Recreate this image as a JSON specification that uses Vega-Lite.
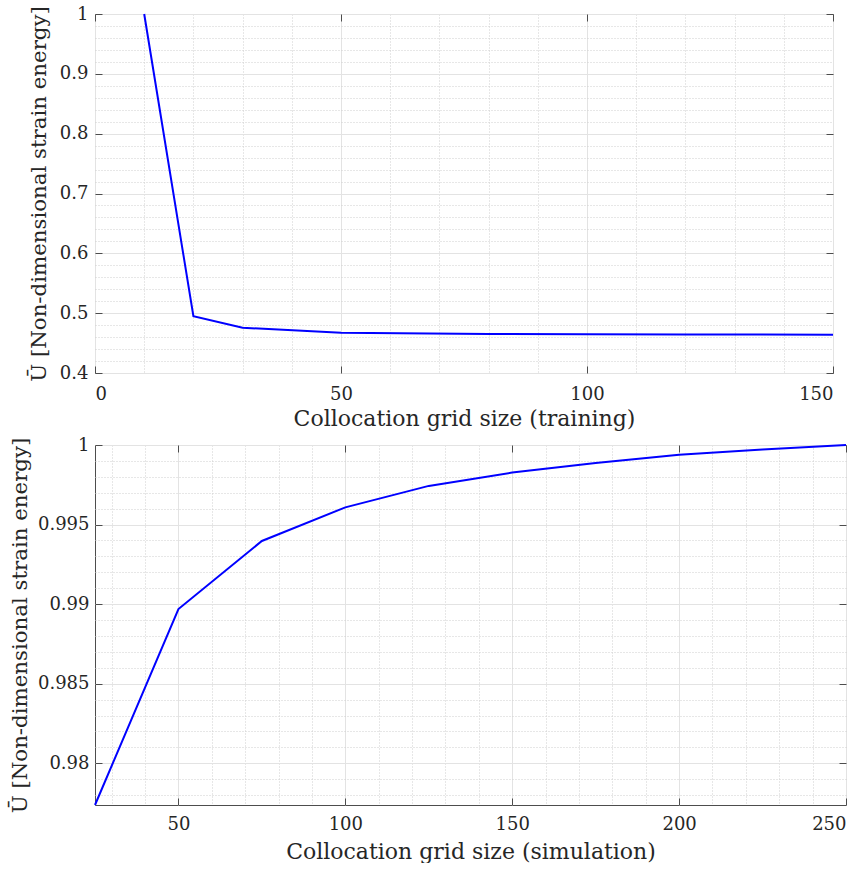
{
  "$schema": "https://vega.github.io/schema/vega-lite/v6.json",
  "padding": {"left": 8, "top": 4, "right": 0, "bottom": 0},
  "spacing": 5,
  "config": {
    "font": "DejaVu Serif",
    "view": {"stroke": "#4d4d4d", "strokeWidth": 1},
    "axis": {
      "labelFont": "DejaVu Serif",
      "titleFont": "DejaVu Serif",
      "labelFontSize": 18,
      "titleFontSize": 22,
      "titleFontWeight": "normal",
      "labelColor": "#262626",
      "titleColor": "#262626",
      "domain": false,
      "tickColor": "#4d4d4d",
      "tickSize": -7,
      "gridColor": "#e3e3e3",
      "gridWidth": 1
    },
    "line": {"clip": true}
  },
  "datasets": {
    "training": [
      {"grid": 10, "energy": 1.0},
      {"grid": 20, "energy": 0.4948},
      {"grid": 30, "energy": 0.4757},
      {"grid": 50, "energy": 0.4674},
      {"grid": 80, "energy": 0.4652},
      {"grid": 100, "energy": 0.4649},
      {"grid": 120, "energy": 0.4643},
      {"grid": 150, "energy": 0.4641}
    ],
    "simulation": [
      {"grid": 25, "energy": 0.97738},
      {"grid": 50, "energy": 0.98969},
      {"grid": 75, "energy": 0.99397},
      {"grid": 100, "energy": 0.99608},
      {"grid": 125, "energy": 0.99743},
      {"grid": 150, "energy": 0.99827},
      {"grid": 175, "energy": 0.99887},
      {"grid": 200, "energy": 0.99938},
      {"grid": 225, "energy": 0.99972},
      {"grid": 250, "energy": 1.0}
    ]
  },
  "vconcat": [
    {
      "width": 738,
      "height": 359,
      "data": {"name": "training"},
      "layer": [
        {
          "mark": {"type": "line", "opacity": 0},
          "encoding": {
            "x": {"field": "grid", "type": "quantitative", "scale": {"domain": [0, 150], "nice": false},
              "axis": {"orient": "bottom", "grid": true, "gridDash": [1, 2], "gridColor": "#cfcfcf", "labels": false, "ticks": false, "title": null,
                "values": [10, 20, 30, 40, 60, 70, 80, 90, 110, 120, 130, 140]}},
            "y": {"field": "energy", "type": "quantitative", "scale": {"domain": [0.4, 1], "nice": false, "zero": false},
              "axis": {"orient": "left", "grid": true, "gridDash": [1, 2], "gridColor": "#cfcfcf", "labels": false, "ticks": false, "title": null,
                "values": [0.42, 0.44, 0.46, 0.48, 0.52, 0.54, 0.56, 0.58, 0.62, 0.64, 0.66, 0.68, 0.72, 0.74, 0.76, 0.78, 0.82, 0.84, 0.86, 0.88, 0.92, 0.94, 0.96, 0.98]}}
          }
        },
        {
          "mark": {"type": "line", "color": "#0000ff", "strokeWidth": 2},
          "encoding": {
            "x": {"field": "grid", "type": "quantitative", "scale": {"domain": [0, 150], "nice": false},
              "axis": {"orient": "bottom", "grid": true, "values": [0, 50, 100, 150], "labelPadding": 19, "titlePadding": 5,
                "title": "Collocation grid size (training)"}},
            "y": {"field": "energy", "type": "quantitative", "scale": {"domain": [0.4, 1], "nice": false, "zero": false},
              "axis": {"orient": "left", "grid": true, "values": [0.4, 0.5, 0.6, 0.7, 0.8, 0.9, 1], "format": ".1~f", "labelPadding": 14, "titlePadding": 10, "titleFontSize": 21.3,
                "title": "Ū [Non-dimensional strain energy]"}}
          }
        },
        {
          "mark": {"type": "line", "opacity": 0},
          "encoding": {
            "x": {"field": "grid", "type": "quantitative", "scale": {"domain": [0, 150], "nice": false},
              "axis": {"orient": "top", "grid": false, "labels": false, "title": null, "values": [0, 50, 100, 150]}},
            "y": {"field": "energy", "type": "quantitative", "scale": {"domain": [0.4, 1], "nice": false, "zero": false},
              "axis": {"orient": "right", "grid": false, "labels": false, "title": null, "values": [0.4, 0.5, 0.6, 0.7, 0.8, 0.9, 1]}}
          }
        }
      ],
      "resolve": {"axis": {"x": "independent", "y": "independent"}}
    },
    {
      "width": 751,
      "height": 360,
      "data": {"name": "simulation"},
      "layer": [
        {
          "mark": {"type": "line", "opacity": 0},
          "encoding": {
            "x": {"field": "grid", "type": "quantitative", "scale": {"domain": [25, 250], "nice": false},
              "axis": {"orient": "bottom", "grid": true, "gridDash": [1, 2], "gridColor": "#cfcfcf", "labels": false, "ticks": false, "title": null,
                "values": [30, 40, 60, 70, 80, 90, 110, 120, 130, 140, 160, 170, 180, 190, 210, 220, 230, 240]}},
            "y": {"field": "energy", "type": "quantitative", "scale": {"domain": [0.97738, 1], "nice": false, "zero": false},
              "axis": {"orient": "left", "grid": true, "gridDash": [1, 2], "gridColor": "#cfcfcf", "labels": false, "ticks": false, "title": null,
                "values": [0.978, 0.979, 0.981, 0.982, 0.983, 0.984, 0.986, 0.987, 0.988, 0.989, 0.991, 0.992, 0.993, 0.994, 0.996, 0.997, 0.998, 0.999]}}
          }
        },
        {
          "mark": {"type": "line", "color": "#0000ff", "strokeWidth": 2},
          "encoding": {
            "x": {"field": "grid", "type": "quantitative", "scale": {"domain": [25, 250], "nice": false},
              "axis": {"orient": "bottom", "grid": true, "values": [50, 100, 150, 200, 250], "labelPadding": 17, "titlePadding": 8,
                "title": "Collocation grid size (simulation)"}},
            "y": {"field": "energy", "type": "quantitative", "scale": {"domain": [0.97738, 1], "nice": false, "zero": false},
              "axis": {"orient": "left", "grid": true, "values": [0.98, 0.985, 0.99, 0.995, 1], "format": ".3~f", "labelPadding": 13, "titlePadding": 7, "titleFontSize": 21.3,
                "title": "Ū [Non-dimensional strain energy]"}}
          }
        },
        {
          "mark": {"type": "line", "opacity": 0},
          "encoding": {
            "x": {"field": "grid", "type": "quantitative", "scale": {"domain": [25, 250], "nice": false},
              "axis": {"orient": "top", "grid": false, "labels": false, "title": null, "values": [50, 100, 150, 200, 250]}},
            "y": {"field": "energy", "type": "quantitative", "scale": {"domain": [0.97738, 1], "nice": false, "zero": false},
              "axis": {"orient": "right", "grid": false, "labels": false, "title": null, "values": [0.98, 0.985, 0.99, 0.995, 1]}}
          }
        }
      ],
      "resolve": {"axis": {"x": "independent", "y": "independent"}}
    }
  ]
}
